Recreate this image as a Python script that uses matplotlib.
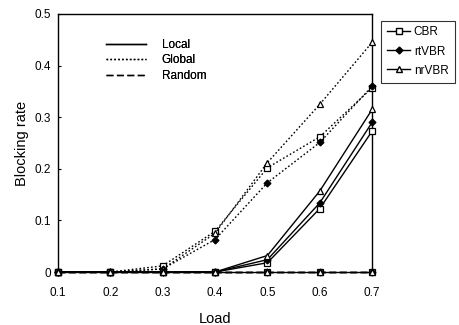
import matplotlib
matplotlib.use("Agg")
import matplotlib.pyplot as plt
from matplotlib.lines import Line2D

plt.rcParams['font.family'] = ['Liberation Sans', 'DejaVu Sans']

load = [0.1, 0.2, 0.3, 0.4, 0.5, 0.6, 0.7]
classes = ["CBR", "rtVBR", "nrVBR"]
markers = {"CBR": "s", "rtVBR": "D", "nrVBR": "^"}
fills = {"CBR": "white", "rtVBR": "black", "nrVBR": "white"}
msize = {"CBR": 4, "rtVBR": 3.5, "nrVBR": 4.5}

local_cbr = [0, 0, 0, 0, 0.018, 0.123, 0.273]
local_rtvbr = [0, 0, 0, 0, 0.024, 0.134, 0.29]
local_nrvbr = [0, 0, 0, 0, 0.032, 0.157, 0.315]
global_cbr = [0, 0, 0.012, 0.079, 0.202, 0.262, 0.357]
global_rtvbr = [0, 0, 0.006, 0.063, 0.173, 0.251, 0.36]
global_nrvbr = [0, 0, 0.006, 0.075, 0.212, 0.325, 0.445]
random_cbr = [0, 0, 0, 0, 0, 0, 0]
random_rtvbr = [0, 0, 0, 0, 0, 0, 0]
random_nrvbr = [0, 0, 0, 0, 0, 0, 0]

data = {
    "Local": {"CBR": local_cbr, "rtVBR": local_rtvbr, "nrVBR": local_nrvbr},
    "Global": {"CBR": global_cbr, "rtVBR": global_rtvbr, "nrVBR": global_nrvbr},
    "Random": {"CBR": random_cbr, "rtVBR": random_rtvbr, "nrVBR": random_nrvbr},
}
styles = {"Local": "-", "Global": (0, (1.2, 1.6)), "Random": (0, (5, 2.5))}

fig = plt.figure(figsize=(4.6, 3.25), dpi=100)
ax = fig.add_axes([0.126, 0.163, 0.683, 0.794])

for scheme in ["Random", "Global", "Local"]:
    for c in classes:
        ax.plot(load, data[scheme][c], linestyle=styles[scheme], color="black",
                linewidth=1.0, marker=markers[c], markersize=msize[c],
                markerfacecolor=fills[c], markeredgecolor="black",
                markeredgewidth=0.9, clip_on=False, zorder=3)

ax.set_xlim(0.1, 0.7)
ax.set_ylim(0, 0.5)
ax.set_xticks(load)
ax.set_xticklabels(["0.1", "0.2", "0.3", "0.4", "0.5", "0.6", "0.7"])
ax.set_yticks([0, 0.1, 0.2, 0.3, 0.4, 0.5])
ax.set_yticklabels(["0", "0.1", "0.2", "0.3", "0.4", "0.5"])
ax.tick_params(direction="in", length=2, labelsize=8.5)
ax.tick_params(axis="x", pad=11)
ax.tick_params(axis="y", pad=5)
ax.set_xlabel("Load", fontsize=10.5, labelpad=9)
ax.set_ylabel("Blocking rate", fontsize=10.5, labelpad=4)
for s in ax.spines.values():
    s.set_linewidth(1.0)

# line style legend
h1 = [Line2D([], [], color="black", linewidth=1.0, linestyle=styles[s]) for s in ["Local", "Global", "Random"]]
leg1 = ax.legend(h1, ["Local", "Global", "Random"], loc="upper left",
                 bbox_to_anchor=(0.12, 0.945), frameon=False, fontsize=8.5,
                 handlelength=3.4, handletextpad=1.3, labelspacing=0.3)
ax.add_artist(leg1)

# class legend
h2 = [Line2D([], [], color="black", linewidth=1.0, marker=markers[c], markersize=msize[c],
             markerfacecolor=fills[c], markeredgecolor="black") for c in classes]
leg2 = fig.legend(h2, classes, loc="upper left", bbox_to_anchor=(0.815, 0.955),
                  frameon=True, fontsize=8.5, handlelength=2.0, handletextpad=0.3,
                  labelspacing=0.6, fancybox=False, borderpad=0.5)
leg2.get_frame().set_edgecolor("black")
leg2.get_frame().set_linewidth(0.8)

fig.savefig("out.png", dpi=100)
